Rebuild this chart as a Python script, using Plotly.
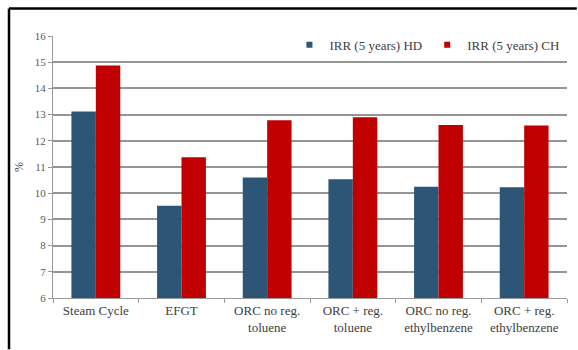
import plotly.graph_objects as go

# IRR over a 5-year horizon for each heat-recovery configuration
categories = [
    "Steam Cycle",
    "EFGT",
    "ORC no reg.<br>toluene",
    "ORC + reg.<br>toluene",
    "ORC no reg.<br>ethylbenzene",
    "ORC + reg.<br>ethylbenzene",
]
irr_hd = [13.12, 9.52, 10.6, 10.53, 10.25, 10.23]
irr_ch = [14.87, 11.37, 12.78, 12.9, 12.6, 12.58]
series_names = ["IRR (5 years) HD", "IRR (5 years) CH"]
series_colors = ["#2D5575", "#C00000"]
y_ticks = [6, 7, 8, 9, 10, 11, 12, 13, 14, 15, 16]

serif = "Liberation Serif"

fig = go.Figure()
for name, vals, col in zip(series_names, [irr_hd, irr_ch], series_colors):
    fig.add_trace(go.Bar(name=name, x=categories, y=vals, showlegend=False,
                         marker=dict(color=col, line_width=0)))
    # compact square legend key for each series
    fig.add_trace(go.Scatter(name=name, x=[None], y=[None], mode="markers",
                             marker=dict(symbol="square", size=6, color=col)))

# outer frame: left and top edges of the chart border
frame = dict(color="black", width=2.5)
fig.add_shape(type="line", xref="paper", yref="paper",
              x0=-0.0856, x1=-0.0856, y0=-0.196, y1=1.105, line=frame)
fig.add_shape(type="line", xref="paper", yref="paper",
              x0=-0.0856, x1=1.019, y0=1.105, y1=1.105, line=frame)

fig.update_layout(
    width=578, height=350,
    margin=dict(l=53, r=11, t=36, b=52),
    paper_bgcolor="white", plot_bgcolor="white",
    barmode="group", bargap=0.43, bargroupgap=0,
    font=dict(family=serif, color="#404040"),
    legend=dict(orientation="h", x=0.995, y=0.966, xanchor="right", yanchor="middle",
                font=dict(size=13, family=serif, color="#404040"), bgcolor="white",
                itemwidth=30, tracegroupgap=0),
    xaxis=dict(
        showgrid=False, showline=True, linecolor="#999999", linewidth=1,
        ticks="outside", tickson="boundaries", ticklen=4, tickcolor="#999999",
        tickfont=dict(size=13, family=serif, color="#404040"),
    ),
    yaxis=dict(
        range=[6, 16], tickvals=y_ticks,
        showgrid=True, gridcolor="#959595", gridwidth=1.5,
        showline=True, linecolor="#999999", linewidth=1,
        ticks="outside", ticklen=4, tickcolor="#999999",
        tickfont=dict(size=11, family=serif, color="#595959"),
        title=dict(text="%", font=dict(size=12, family=serif, color="#404040"), standoff=8),
        zeroline=False,
    ),
)

fig.write_html("out.html", config={"displayModeBar": False})
